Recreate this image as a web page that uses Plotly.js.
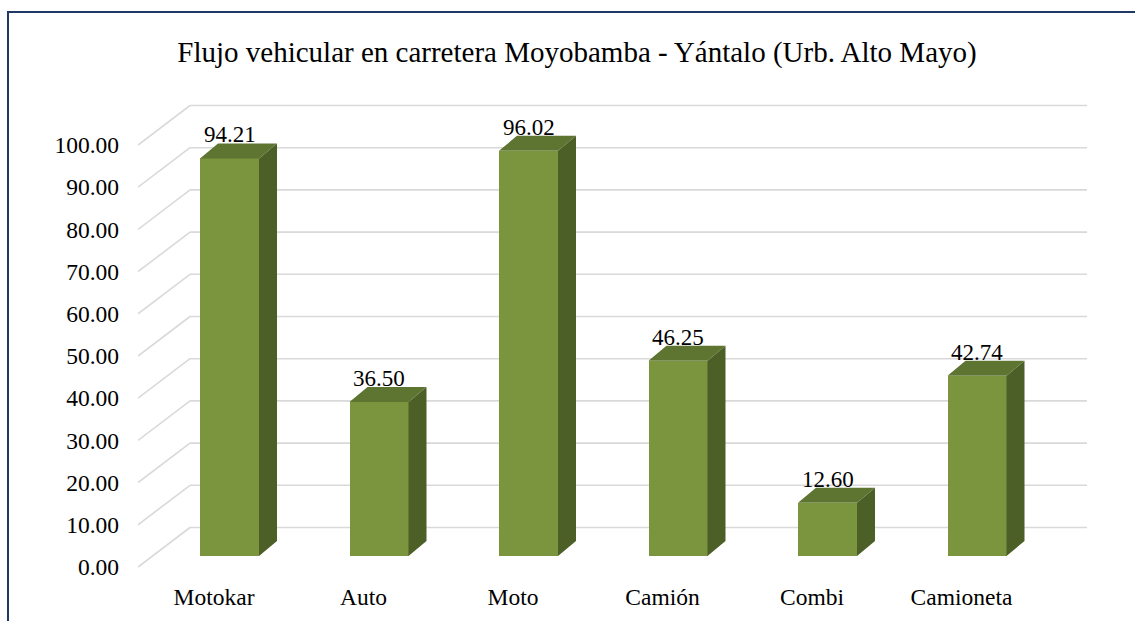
<!DOCTYPE html>
<html>
<head>
<meta charset="utf-8">
<script src="https://cdn.plot.ly/plotly-3.0.1.min.js"></script>
<style>html,body{margin:0;padding:0;background:#fff;}#chart{width:1135px;height:621px;}</style>
</head>
<body>
<div id="chart"></div>
<script>
// ---- data ----
const categories = ['Motokar', 'Auto', 'Moto', 'Camión', 'Combi', 'Camioneta'];
const values = [94.21, 36.50, 96.02, 46.25, 12.60, 42.74];
const valueLabels = ['94.21', '36.50', '96.02', '46.25', '12.60', '42.74'];
const yTickValues = [0, 10, 20, 30, 40, 50, 60, 70, 80, 90, 100];
const yTickLabels = ['0.00', '10.00', '20.00', '30.00', '40.00', '50.00', '60.00', '70.00', '80.00', '90.00', '100.00'];
const titleText = 'Flujo vehicular en carretera Moyobamba - Yántalo (Urb. Alto Mayo)';

// ---- geometry (pixel layout -> axis units) ----
const W = 1135, H = 621;
const L = 138, R = 1087, T = 100, B = 580;
const pxPerCat = 149.5, cat0 = 214;
const y0px = 567, pxPerUnit = 4.22;
const xRange = [(L - cat0) / pxPerCat, (R - cat0) / pxPerCat];
const yRange = [(y0px - B) / pxPerUnit, (y0px - T) / pxPerUnit];
const dxU = p => p / pxPerCat;
const dyU = p => p / pxPerUnit;

const barOffset = dxU(15.5);
const barWidth = dxU(59);
const base = dyU(11);
const depthX = dxU(18), depthY = dyU(15);
const wallX = dxU(52), wallY = dyU(39.5);

const FRONT = '#7A953D', TOP = '#5E7531', SIDE = '#4C5F27';
const FONT = 'Liberation Serif, Times New Roman, serif';

const xs = categories.map((c, i) => i + barOffset);

// side and top faces
const sideX = [], sideY = [], topX = [], topY = [];
values.forEach((v, i) => {
  const x0 = xs[i] - barWidth / 2, x1 = xs[i] + barWidth / 2;
  const y1 = base + v;
  sideX.push(x1, x1 + depthX, x1 + depthX, x1, x1, null);
  sideY.push(base, base + depthY, y1 + depthY, y1, base, null);
  topX.push(x0, x1, x1 + depthX, x0 + depthX, x0, null);
  topY.push(y1, y1, y1 + depthY, y1 + depthY, y1, null);
});

const traces = [
  {type: 'scatter', mode: 'lines', x: sideX, y: sideY, fill: 'toself', fillcolor: SIDE,
   line: {width: 0, color: SIDE}, hoverinfo: 'skip', showlegend: false},
  {type: 'scatter', mode: 'lines', x: topX, y: topY, fill: 'toself', fillcolor: TOP,
   line: {width: 0, color: TOP}, hoverinfo: 'skip', showlegend: false},
  {type: 'bar', x: xs, y: values, base: base, width: barWidth,
   marker: {color: FRONT, line: {width: 0}}, hoverinfo: 'skip', showlegend: false}
];

// gridlines in perspective
const shapes = [];
yTickValues.forEach(v => {
  shapes.push({type: 'line', xref: 'x', yref: 'y', layer: 'below',
    x0: xRange[0], y0: v, x1: xRange[0] + wallX, y1: v + wallY,
    line: {color: '#D9D9D9', width: 1.6}});
  shapes.push({type: 'line', xref: 'x', yref: 'y', layer: 'below',
    x0: xRange[0] + wallX, y0: v + wallY, x1: xRange[1], y1: v + wallY,
    line: {color: '#D9D9D9', width: 1.6}});
});
// outer border (top and left visible)
shapes.push({type: 'rect', xref: 'paper', yref: 'paper', layer: 'above',
  x0: (8 - L) / (R - L), x1: (1145 - L) / (R - L),
  y0: (B - 635) / (B - T), y1: (B - 12) / (B - T),
  line: {color: '#1F3864', width: 2}, fillcolor: 'rgba(0,0,0,0)'});

const annotations = values.map((v, i) => ({
  x: xs[i], y: base + v + depthY, xref: 'x', yref: 'y',
  text: valueLabels[i], showarrow: false, yanchor: 'bottom', xanchor: 'center',
  yshift: -5, borderpad: 0,
  font: {family: FONT, size: 23, color: '#000'}
}));

const layout = {
  width: W, height: H,
  margin: {l: L, r: W - R, t: T, b: H - B, pad: 0},
  paper_bgcolor: '#fff', plot_bgcolor: 'rgba(0,0,0,0)',
  title: {text: titleText, x: 577 / W, xref: 'container', xanchor: 'center',
          y: 1 - 52 / H, yref: 'container', yanchor: 'middle',
          font: {family: FONT, size: 29, color: '#000'}},
  xaxis: {range: xRange, tickmode: 'array', tickvals: categories.map((c, i) => i), ticktext: categories,
          showgrid: false, zeroline: false, showline: false, ticks: '', ticklabelstandoff: 0,
          tickfont: {family: FONT, size: 23.5, color: '#000'}, fixedrange: true},
  yaxis: {range: yRange, tickmode: 'array', tickvals: yTickValues, ticktext: yTickLabels,
          showgrid: false, zeroline: false, showline: false, ticks: '', ticklabelstandoff: 18,
          tickfont: {family: FONT, size: 23.5, color: '#000'}, fixedrange: true},
  shapes: shapes, annotations: annotations, bargap: 0, showlegend: false
};

Plotly.newPlot('chart', traces, layout, {displayModeBar: false, staticPlot: true});
</script>
</body>
</html>
